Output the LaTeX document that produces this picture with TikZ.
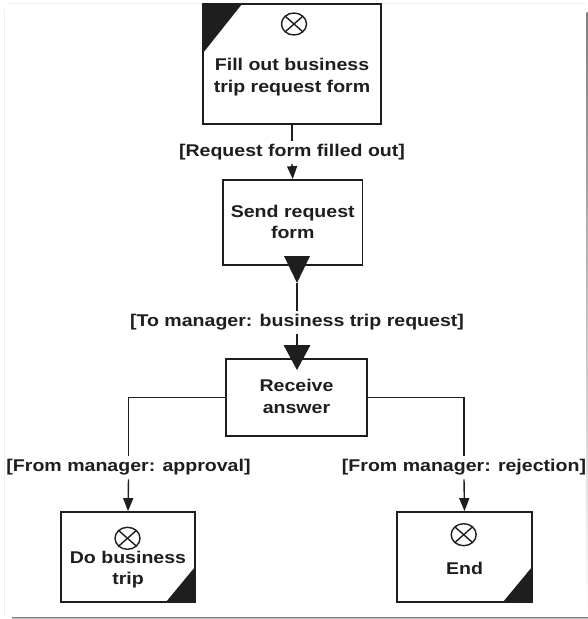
\documentclass[tikz,border=0pt]{standalone}
\usepackage{fontspec}
\setmainfont{Liberation Sans}[FakeStretch=1.15]
\usetikzlibrary{arrows.meta}
\definecolor{ink}{HTML}{1E1E1E}
\definecolor{shade}{HTML}{A0A0A0}
\definecolor{faint}{HTML}{F0F0F0}

% event marker: a circle with a cross, centred at (#1,#2)
\newcommand{\eventmark}[2]{%
  \draw[evt] (#1,#2) ellipse [x radius=12.5, y radius=11];
  \draw[evt] (#1-8.8,#2-7.8) -- (#1+8.8,#2+7.8);
  \draw[evt] (#1-8.8,#2+7.8) -- (#1+8.8,#2-7.8);
}

\begin{document}
\begin{tikzpicture}[x=1pt, y=-1pt,
  box/.style={draw=ink, line width=1.7pt, fill=white, inner sep=0pt},
  txt/.style={text=ink, font=\bfseries\fontsize{17}{21.5}\selectfont, align=center, inner sep=0pt},
  flowlabel/.style={text=ink, font=\bfseries\fontsize{17}{21}\selectfont, inner xsep=2pt, inner ysep=3.5pt},
  flow/.style={draw=ink, line width=1.4pt},
  tip/.style={-{Triangle[width=10pt, length=13pt]}},
  corner/.style={fill=ink},
  evt/.style={draw=ink, line width=1.4pt}
]
\useasboundingbox[fill=white] (0,0) rectangle (588,619);

% frame shadow
\fill[faint] (3.5,9) rectangle (4.5,616);
\fill[faint] (8,2.5) rectangle (586,3.5);
\fill[shade] (586.5,12) rectangle (588,619);
\fill[shade] (12,617) rectangle (588,619);

% activity boxes
\node[box, minimum width=178pt, minimum height=120pt] (fill) at (292,64) {};
\node[box, minimum width=139.5pt, minimum height=85pt] (send) at (292.75,222.5) {};
\node[box, minimum width=141pt, minimum height=77pt] (recv) at (296.5,397.5) {};
\node[box, minimum width=134pt, minimum height=90pt] (trip) at (128,557) {};
\node[box, minimum width=135pt, minimum height=90pt] (done) at (464.5,557) {};

% start / end corners
\fill[corner] (203,4) -- (242,4) -- (203,53) -- cycle;
\fill[corner] (195,602) -- (166,602) -- (195,567) -- cycle;
\fill[corner] (532,602) -- (503,602) -- (532,567) -- cycle;

% event markers
\eventmark{294}{24}
\eventmark{127.5}{538.3}
\eventmark{463.7}{534.7}

% box texts
\node[txt] (fillT) at (292,77.1) {Fill out business\\trip request form};
\node[txt] (sendT) at (292.75,221.7) {Send request\\form};
\node[txt] (recvT) at (296.5,396.3) {Receive\\answer};
\node[txt] (tripT) at (128,569.8) {Do business\\trip};
\node[txt] (doneT) at (464.5,568.1) {End};

% flow labels
\node[flowlabel] (lblA) at (292,152.3) {[Request form filled out]};
\node[flowlabel] (lblB) at (297,322.3) {[To manager: business trip request]};
\node[flowlabel] (lblC) at (128.5,467.6) {[From manager: approval]};
\node[flowlabel] (lblD) at (464,467.6) {[From manager: rejection]};

% message send / receive markers
\coordinate (sendTop) at (297,256);
\coordinate (sendTip) at (297,283);
\coordinate (recvTop) at (297,345);
\coordinate (recvTip) at (297,370);
\fill[corner] ([xshift=-13pt]sendTop) -- ([xshift=13pt]sendTop) -- (sendTip) -- cycle;
\fill[corner] ([xshift=-13.5pt]recvTop) -- ([xshift=13.5pt]recvTop) -- (recvTip) -- cycle;

% connectors
\draw[flow] (fill.south) -- (lblA.north);
\draw[flow, tip] (lblA.south) -- (send.north);
\draw[flow] (sendTip) -- (lblB.north);
\draw[flow] (lblB.south) -- (recvTop);
\draw[flow] (recv.west) -| (lblC.north);
\draw[flow, tip] (lblC.south) -- (trip.north);
\draw[flow] (recv.east) -| (lblD.north);
\draw[flow, tip] (lblD.south) -- (done.north);
\end{tikzpicture}
\end{document}
